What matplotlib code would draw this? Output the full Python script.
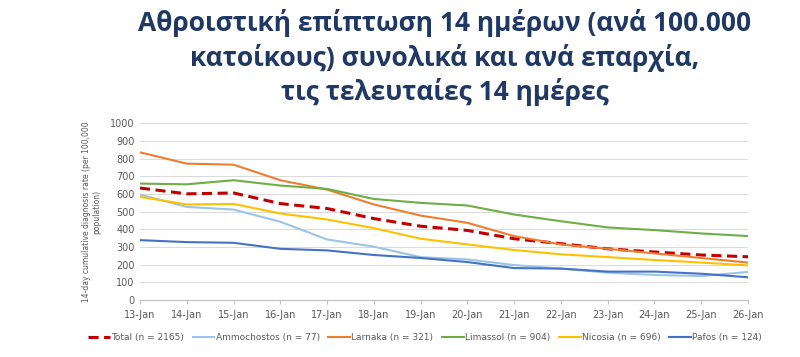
import matplotlib.pyplot as plt

dates = ['13-Jan', '14-Jan', '15-Jan', '16-Jan', '17-Jan', '18-Jan', '19-Jan',
         '20-Jan', '21-Jan', '22-Jan', '23-Jan', '24-Jan', '25-Jan', '26-Jan']

total = [633, 600, 605, 545, 517, 460, 417, 393, 346, 318, 289, 271, 254, 244]
ammochostos = [596, 526, 511, 442, 342, 301, 242, 229, 197, 177, 154, 141, 135, 158]
larnaka = [835, 771, 765, 677, 624, 540, 477, 436, 361, 314, 289, 263, 237, 211]
limassol = [658, 654, 677, 647, 628, 571, 549, 534, 483, 445, 410, 395, 376, 361]
nicosia = [583, 540, 543, 489, 455, 406, 346, 314, 282, 258, 242, 226, 211, 195]
pafos = [338, 327, 323, 289, 280, 254, 237, 214, 180, 177, 160, 160, 148, 128]

series = [
    ('Total (n = 2165)', total, '#C00000', (0, (3.3, 1.8)), 2.2),
    ('Ammochostos (n = 77)', ammochostos, '#9DC3E6', '-', 1.5),
    ('Larnaka (n = 321)', larnaka, '#ED7D31', '-', 1.5),
    ('Limassol (n = 904)', limassol, '#70AD47', '-', 1.5),
    ('Nicosia (n = 696)', nicosia, '#FFC000', '-', 1.5),
    ('Pafos (n = 124)', pafos, '#4472C4', '-', 1.5),
]

fig = plt.figure(figsize=(8, 3.57), dpi=100)
ax = fig.add_axes([0.175, 0.16, 0.76, 0.495])

x = list(range(len(dates)))
for label, vals, color, ls, lw in series:
    ax.plot(x, vals, color=color, linestyle=ls, linewidth=lw, label=label)

ax.set_xlim(0, len(dates) - 1)
ax.set_ylim(0, 1000)
ax.set_yticks(range(0, 1001, 100))
ax.set_xticks(x)
ax.set_xticklabels(dates)
ax.tick_params(axis='both', labelsize=7, colors='#595959', length=0, pad=4)
ax.tick_params(axis='x', length=3, color='#BFBFBF')
ax.grid(axis='y', color='#D9D9D9', linewidth=0.7)
ax.set_axisbelow(True)
for s in ['top', 'right', 'left']:
    ax.spines[s].set_visible(False)
ax.spines['bottom'].set_color('#BFBFBF')

ax.set_ylabel('14-day cumulative diagnosis rate (per 100,000\npopulation)',
              fontsize=5.5, color='#595959', labelpad=6)

ax.legend(loc='center', bbox_to_anchor=(0.469, -0.215), ncol=6, frameon=False,
          fontsize=6.5, labelcolor='#595959', handlelength=2.4, handletextpad=0.15,
          columnspacing=0.95, borderpad=0)

fig.text(0.556, 0.975, 'Αθροιστική επίπτωση 14 ημέρων (ανά 100.000\n'
         'κατοίκους) συνολικά και ανά επαρχία,\nτις τελευταίες 14 ημέρες',
         ha='center', va='top', fontsize=19, fontweight='bold', color='#1F3864',
         family='Open Sans', linespacing=1.3)

fig.savefig('out.png', dpi=100)
